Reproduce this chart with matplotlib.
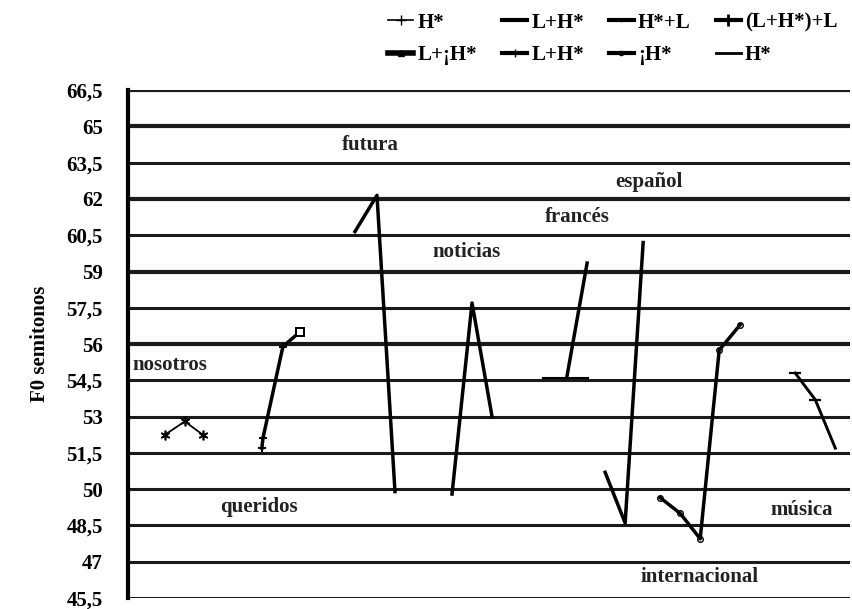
import matplotlib
matplotlib.use("Agg")
import matplotlib.pyplot as plt
from matplotlib.lines import Line2D

plt.rcParams['font.family'] = ['Liberation Serif', 'DejaVu Serif']
plt.rcParams['font.weight'] = 'bold'

# y axis ticks (semitones)
y_ticks = [45.5, 47, 48.5, 50, 51.5, 53, 54.5, 56, 57.5, 59, 60.5, 62, 63.5, 65, 66.5]
y_tick_labels = ["45,5", "47", "48,5", "50", "51,5", "53", "54,5", "56", "57,5",
                 "59", "60,5", "62", "63,5", "65", "66,5"]

# words (series) with their accent labels
words = ["nosotros", "queridos", "futura", "noticias", "francés", "español",
         "internacional", "música"]
accents = ["H*", "L+H*", "H*+L", "(L+H*)+L", "L+¡H*", "L+H*", "¡H*", "H*"]

# time positions (normalised) and F0 values per word
x_nosotros = [1.85, 2.85, 3.75]
f0_nosotros = [52.25, 52.8, 52.25]
x_queridos = [6.7, 6.75, 7.75, 8.6]
f0_queridos = [51.7, 52.1, 55.9, 56.5]
x_futura = [11.35, 12.45, 13.35]
f0_futura = [60.65, 62.15, 49.9]
x_noticias = [16.2, 17.2, 18.2]
f0_noticias = [49.8, 57.7, 53.0]
x_frances = [21.95, 22.95]
f0_frances = [54.7, 59.35]
x_frances_flat = [20.75, 23.0]
f0_frances_flat = [54.6, 54.6]
x_espanol = [23.85, 24.85, 25.75]
f0_espanol = [50.7, 48.6, 60.2]
x_internacional = [26.6, 27.6, 28.6, 29.55, 30.6]
f0_internacional = [49.65, 49.0, 47.95, 55.75, 56.8]
x_musica = [33.35, 34.35, 35.35]
f0_musica = [54.8, 53.7, 51.7]

# label positions for words
label_x = [0.25, 4.6, 10.7, 15.2, 20.85, 24.35, 25.6, 32.1]
label_y = [55.15, 49.25, 64.25, 59.8, 61.25, 62.7, 46.35, 49.15]

fig = plt.figure(figsize=(8.52, 6.09), dpi=100)
ax = fig.add_axes([0.150, 0.018, 0.848, 0.834])
ax.set_xlim(0, 36.1)
ax.set_ylim(45.5, 66.5)

thick = {56, 59, 62, 65, 66.5}
for yv in y_ticks:
    ax.axhline(yv, color='#1a1a1a', lw=3.0 if yv in thick else 2.2, zorder=1)

lw = 2.5
ax.plot(x_nosotros, f0_nosotros, color='black', lw=1.3, marker=(6, 2, 0),
        ms=7, mew=1.2, zorder=3)
ax.plot(x_queridos[:-1], f0_queridos[:-1], color='black', lw=lw, marker='+',
        ms=6, mew=1.5, zorder=3)
ax.plot(x_queridos[-2:], f0_queridos[-2:], color='black', lw=lw, zorder=3)
ax.plot(x_queridos[-1:], f0_queridos[-1:], color='black', marker='s', ms=6,
        mfc='white', mew=1.4, zorder=4)
ax.plot(x_futura, f0_futura, color='black', lw=lw, zorder=3)
ax.plot(x_noticias, f0_noticias, color='black', lw=lw, zorder=3)
ax.plot(x_frances_flat, f0_frances_flat, color='black', lw=1.5, zorder=2)
ax.plot(x_frances, f0_frances, color='black', lw=lw, zorder=3)
ax.plot(x_espanol, f0_espanol, color='black', lw=lw, zorder=3)
ax.plot(x_internacional, f0_internacional, color='black', lw=lw, marker='o',
        ms=4, mfc='none', mew=1, zorder=3)
ax.plot(x_musica, f0_musica, color='black', lw=lw - 0.4, marker='_',
        ms=9, mew=1.6, markevery=[0, 1], zorder=3)

for w, lx, ly in zip(words, label_x, label_y):
    ax.text(lx, ly, w, ha='left', va='center', fontsize=15, fontweight='bold',
            color='#222222', zorder=5)

ax.set_yticks(y_ticks)
ax.set_yticklabels(y_tick_labels)
ax.tick_params(axis='y', length=0, pad=18, labelsize=15)
ax.set_xticks([])
for s in ['top', 'right', 'bottom']:
    ax.spines[s].set_visible(False)
ax.spines['left'].set_linewidth(3)
ax.set_ylabel("F0 semitonos", fontsize=15, fontweight='bold', labelpad=12)

# legend (column-major fill -> reorder to get row layout)
styles = [
    dict(lw=1.2, marker='+', ms=7),
    dict(lw=3, marker='_', ms=8),
    dict(lw=3, marker='.', ms=3),
    dict(lw=3, marker='+', ms=8, mew=2),
    dict(lw=4, marker='^', ms=5),
    dict(lw=3, marker='|', ms=6),
    dict(lw=3, marker='o', ms=3, mfc='none'),
    dict(lw=2),
]
handles = [Line2D([], [], color='black', **st) for st in styles]
order = [0, 4, 1, 5, 2, 6, 3, 7]
fig.legend([handles[i] for i in order], [accents[i] for i in order],
           loc='upper right', bbox_to_anchor=(1.005, 1.01), ncol=4,
           frameon=False, fontsize=15, handlelength=1.2, handletextpad=0.2,
           columnspacing=1.2, labelspacing=0.6)

fig.savefig("out.png", dpi=100)
